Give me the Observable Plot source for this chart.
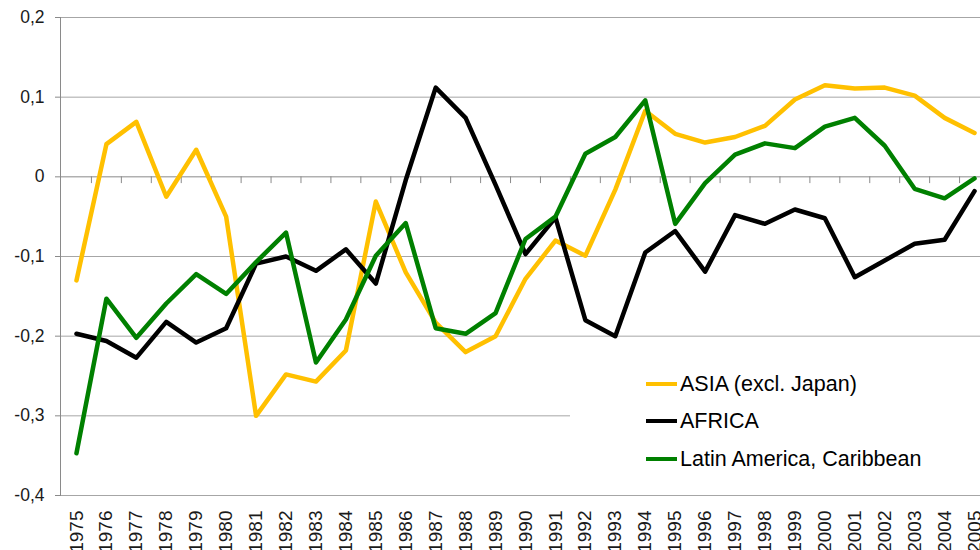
<!DOCTYPE html>
<html>
<head>
<meta charset="utf-8">
<script src="https://cdn.jsdelivr.net/npm/d3@7"></script>
<script src="https://cdn.jsdelivr.net/npm/@observablehq/plot@0.6"></script>
<style>
  html, body { margin: 0; padding: 0; background: #fff; overflow: hidden; }
  #wrap { position: relative; width: 980px; height: 550px; overflow: hidden; }
  #legend { position: absolute; left: 570px; top: 345px; width: 410px; height: 140px; background: #fff;
            font-family: "Liberation Sans", Arial, sans-serif; font-size: 21.5px; color: #000; }
  .item { position: absolute; left: 76px; height: 24px; display: flex; align-items: center; white-space: nowrap; }
  .swatch { width: 31px; height: 4px; margin-right: 3px; }
</style>
</head>
<body>
<div id="wrap"></div>
<script>
const years = [1975,1976,1977,1978,1979,1980,1981,1982,1983,1984,1985,1986,1987,1988,1989,1990,
               1991,1992,1993,1994,1995,1996,1997,1998,1999,2000,2001,2002,2003,2004,2005];
const asia = [-0.13,0.041,0.069,-0.025,0.034,-0.05,-0.30,-0.248,-0.257,-0.218,-0.031,-0.12,-0.183,-0.22,-0.2,-0.128,
              -0.08,-0.099,-0.016,0.083,0.054,0.043,0.05,0.064,0.097,0.115,0.111,0.112,0.102,0.074,0.055];
const africa = [-0.197,-0.206,-0.227,-0.182,-0.208,-0.19,-0.109,-0.1,-0.118,-0.091,-0.134,-0.004,0.112,0.074,-0.01,-0.097,
                -0.051,-0.18,-0.2,-0.095,-0.068,-0.119,-0.048,-0.059,-0.041,-0.052,-0.126,-0.105,-0.084,-0.079,-0.018];
const latam = [-0.347,-0.153,-0.202,-0.159,-0.122,-0.147,-0.107,-0.07,-0.233,-0.179,-0.099,-0.058,-0.19,-0.197,-0.171,-0.078,
               -0.05,0.029,0.05,0.096,-0.059,-0.008,0.028,0.042,0.036,0.063,0.074,0.039,-0.015,-0.027,-0.002];
const seriesNames = ["ASIA (excl. Japan)", "AFRICA", "Latin America, Caribbean"];
const seriesColors = ["#FFC000", "#000000", "#008000"];
const yTicks = [0.2, 0.1, 0, -0.1, -0.2, -0.3, -0.4];
const xTickMarks = years.map(y => y + 0.5);

const data = [];
[asia, africa, latam].forEach((vals, s) =>
  vals.forEach((v, i) => data.push({year: years[i], value: v, series: seriesNames[s]})));

const fmt = d => d === 0 ? "0" : d.toFixed(1).replace(".", ",");

const plot = Plot.plot({
  width: 980,
  height: 550,
  marginLeft: 60,
  marginRight: 0,
  marginTop: 17,
  marginBottom: 55,
  style: {fontFamily: "'Liberation Sans', Arial, sans-serif", fontSize: "17px", color: "#1a1a1a", background: "#fff"},
  x: {domain: [1974.5, 2005.5], range: [61, 989], axis: null, label: null},
  y: {domain: [-0.4, 0.2], range: [495, 17], axis: null, label: null},
  color: {domain: seriesNames, range: seriesColors},
  marks: [
    Plot.ruleY(yTicks.filter(d => d !== 0), {stroke: "#a6a6a6", strokeWidth: 1}),
    Plot.ruleY([0], {stroke: "#8a8a8a", strokeWidth: 1}),
    Plot.ruleX(xTickMarks, {y1: 0, y2: -0.0085, stroke: "#8a8a8a", strokeWidth: 1}),
    Plot.frame({anchor: "left", stroke: "#8a8a8a"}),
    Plot.axisY({ticks: yTicks, tickFormat: fmt, tickSize: 5, tickPadding: 11, stroke: "#8a8a8a", fontSize: 17.5, fill: "#1a1a1a", label: null}),
    Plot.axisX({ticks: years, tickFormat: d => String(d), tickRotate: -90, tickSize: 0, tickPadding: 15, fontSize: 19, fill: "#1a1a1a", label: null}),
    Plot.lineY(data, {x: "year", y: "value", stroke: "series", z: "series", strokeWidth: 4.5, strokeLinejoin: "round"})
  ]
});

const wrap = document.getElementById("wrap");
wrap.appendChild(plot);

const legend = document.createElement("div");
legend.id = "legend";
const rowTops = [27, 64, 102];
seriesNames.forEach((name, i) => {
  const item = document.createElement("div");
  item.className = "item";
  item.style.top = rowTops[i] + "px";
  const sw = document.createElement("span");
  sw.className = "swatch";
  sw.style.background = seriesColors[i];
  const tx = document.createElement("span");
  tx.textContent = name;
  item.appendChild(sw);
  item.appendChild(tx);
  legend.appendChild(item);
});
wrap.appendChild(legend);
</script>
</body>
</html>
